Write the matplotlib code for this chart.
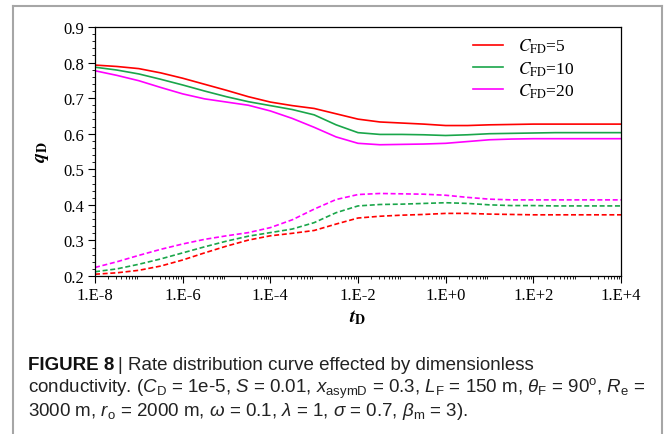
import numpy as np
import matplotlib
matplotlib.use("Agg")
import matplotlib.pyplot as plt
from matplotlib.lines import Line2D

plt.rcParams['mathtext.fontset'] = 'custom'
plt.rcParams['mathtext.rm'] = 'Liberation Sans'
plt.rcParams['mathtext.it'] = 'Liberation Sans:italic'
plt.rcParams['mathtext.bf'] = 'Liberation Sans:bold'

# ---- data ----
log_t = [-8, -7.5, -7, -6.5, -6, -5.5, -5, -4.5, -4, -3.5, -3, -2.5, -2, -1.5,
         -1, -0.5, 0, 0.5, 1, 1.5, 2, 2.5, 3, 3.5, 4]
t_D = [10.0 ** v for v in log_t]

red_solid = [0.793, 0.789, 0.783, 0.771, 0.756, 0.739, 0.722, 0.704, 0.689, 0.679,
             0.671, 0.656, 0.641, 0.633, 0.630, 0.627, 0.623, 0.623, 0.625, 0.626,
             0.627, 0.627, 0.627, 0.627, 0.627]
green_solid = [0.787, 0.779, 0.768, 0.753, 0.737, 0.720, 0.704, 0.690, 0.679, 0.668,
               0.653, 0.625, 0.603, 0.598, 0.598, 0.597, 0.595, 0.597, 0.600, 0.601,
               0.602, 0.603, 0.603, 0.603, 0.603]
magenta_solid = [0.777, 0.764, 0.749, 0.730, 0.712, 0.698, 0.689, 0.680, 0.664, 0.643,
                 0.618, 0.591, 0.573, 0.569, 0.570, 0.571, 0.573, 0.578, 0.583, 0.585,
                 0.586, 0.586, 0.586, 0.586, 0.586]
magenta_dash = [0.224, 0.240, 0.258, 0.275, 0.290, 0.303, 0.313, 0.322, 0.336, 0.358,
                0.388, 0.415, 0.429, 0.432, 0.431, 0.430, 0.427, 0.421, 0.416, 0.414,
                0.414, 0.414, 0.414, 0.414, 0.414]
green_dash = [0.212, 0.220, 0.233, 0.248, 0.265, 0.282, 0.298, 0.312, 0.322, 0.332,
              0.350, 0.378, 0.397, 0.401, 0.402, 0.404, 0.406, 0.404, 0.400, 0.398,
              0.398, 0.397, 0.397, 0.397, 0.397]
red_dash = [0.205, 0.209, 0.216, 0.228, 0.245, 0.265, 0.284, 0.301, 0.313, 0.320,
            0.328, 0.346, 0.363, 0.368, 0.371, 0.373, 0.376, 0.376, 0.374, 0.373,
            0.372, 0.372, 0.372, 0.372, 0.372]

legend_labels = [r'$C_{\mathrm{FD}}$=5', r'$C_{\mathrm{FD}}$=10', r'$C_{\mathrm{FD}}$=20']
x_ticks = [1e-8, 1e-6, 1e-4, 1e-2, 1e0, 1e2, 1e4]
x_tick_labels = ['1.E-8', '1.E-6', '1.E-4', '1.E-2', '1.E+0', '1.E+2', '1.E+4']
y_ticks = [0.2, 0.3, 0.4, 0.5, 0.6, 0.7, 0.8, 0.9]

RED = '#ff0000'
GREEN = '#1aa64a'
MAG = '#ff00ff'
serif = 'Liberation Serif'

W, H = 665, 435
fig = plt.figure(figsize=(W / 100, H / 100), dpi=100)
ax = fig.add_axes([95 / W, 1 - 277 / H, (621 - 95) / W, (277 - 28) / H])

lw = 1.2
dash = (3.0, 1.6)
l1, = ax.plot(t_D, red_solid, color=RED, lw=lw)
l2, = ax.plot(t_D, green_solid, color=GREEN, lw=lw)
l3, = ax.plot(t_D, magenta_solid, color=MAG, lw=lw)
ax.plot(t_D, magenta_dash, color=MAG, lw=lw, linestyle=(0, dash))
ax.plot(t_D, green_dash, color=GREEN, lw=lw, linestyle=(0, dash))
ax.plot(t_D, red_dash, color=RED, lw=lw, linestyle=(0, dash))

ax.set_xscale('log')
ax.set_xlim(1e-8, 1e4)
ax.set_ylim(0.2, 0.9)
ax.set_xticks(x_ticks)
ax.set_xticklabels(x_tick_labels, fontfamily=serif, fontsize=12)
ax.xaxis.set_minor_locator(matplotlib.ticker.LogLocator(base=10, subs=np.arange(2, 10), numticks=100))
ax.xaxis.set_minor_formatter(matplotlib.ticker.NullFormatter())
ax.set_yticks(y_ticks)
ax.set_yticklabels(['%.1f' % v for v in y_ticks], fontfamily=serif, fontsize=12)
ax.yaxis.set_minor_locator(matplotlib.ticker.MultipleLocator(0.02))
ax.tick_params(axis='both', which='major', direction='out', length=5, width=0.8, pad=3)
ax.tick_params(axis='both', which='minor', direction='out', length=2.5, width=0.6)
for s in ax.spines.values():
    s.set_linewidth(0.9)

xl = ax.set_xlabel(r'$\mathbfit{t}_{\mathbf{D}}$', fontsize=14, labelpad=3)
xl.set_math_fontfamily('stix')
yl = ax.set_ylabel(r'$\mathbfit{q}_{\mathbf{D}}$', fontsize=14, labelpad=9)
yl.set_math_fontfamily('stix')

leg = ax.legend([l1, l2, l3], legend_labels, loc='upper left',
                bbox_to_anchor=(473 / W, 1 - 38 / H), bbox_transform=fig.transFigure,
                frameon=False, prop={'family': serif, 'size': 12.5},
                handlelength=1.75, handletextpad=0.85, labelspacing=0.22,
                borderaxespad=0, borderpad=0)
for t in leg.get_texts():
    t.set_math_fontfamily('stix')

# outer frame
fc = '#a6a6a6'
fig.add_artist(Line2D([13 / W, 13 / W], [0, 1 - 7 / H], transform=fig.transFigure, color=fc, lw=1.5))
fig.add_artist(Line2D([662 / W, 662 / W], [0, 1 - 7 / H], transform=fig.transFigure, color=fc, lw=1.5))
fig.add_artist(Line2D([13 / W, 662 / W], [1 - 7 / H, 1 - 7 / H], transform=fig.transFigure, color=fc, lw=1.5))

# caption
cap_font = 'Liberation Sans'
fs = 13.5
x0 = 28 / W
t1 = fig.text(x0, 1 - 370 / H, 'FIGURE 8', fontfamily=cap_font, fontweight='bold',
              fontsize=fs, va='baseline', color='#111111')
fig.canvas.draw()
bb = t1.get_window_extent()
fig.text((bb.x1 + 4) / W, 1 - 370 / H, '| Rate distribution curve effected by dimensionless',
         fontfamily=cap_font, fontsize=fs, va='baseline', color='#222222')
c2 = fig.text(x0, 1 - 393 / H,
              r'conductivity. ($C_{\mathrm{D}}$ = 1e-5, $S$ = 0.01, $x_{\mathrm{asymD}}$ = 0.3, '
              r'$L_{\mathrm{F}}$ = 150 m, $\theta_{\mathrm{F}}$ = 90$^{\mathrm{o}}$, $R_{\mathrm{e}}$ =',
              fontfamily=cap_font, fontsize=fs, va='baseline', color='#222222')
c3 = fig.text(x0, 1 - 416 / H,
              r'3000 m, $r_{\mathrm{o}}$ = 2000 m, $\omega$ = 0.1, $\lambda$ = 1, $\sigma$ = 0.7, '
              r'$\beta_{\mathrm{m}}$ = 3).',
              fontfamily=cap_font, fontsize=fs, va='baseline', color='#222222')

fig.savefig('out.png', dpi=100)
